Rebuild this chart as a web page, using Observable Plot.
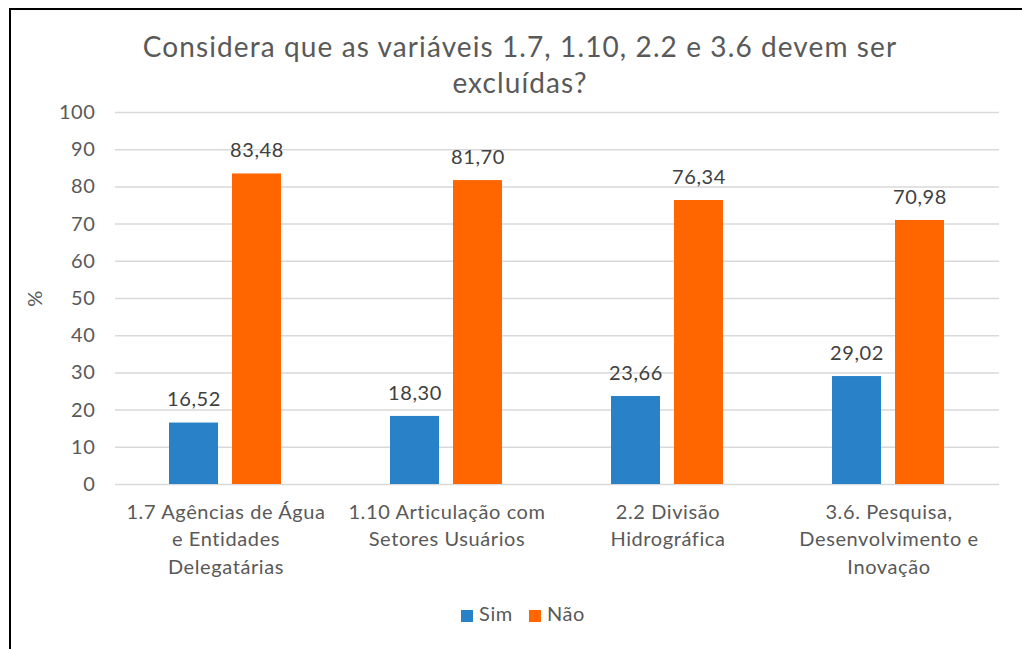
<!DOCTYPE html>
<html>
<head>
<meta charset="utf-8">
<script src="https://cdn.jsdelivr.net/npm/d3@7"></script>
<script src="https://cdn.jsdelivr.net/npm/@observablehq/plot@0.6"></script>
<style>
  html, body { margin: 0; padding: 0; background: #fff; overflow: hidden; width: 1022px; height: 649px; }
  #frame { position: absolute; left: 9px; top: 8px; width: 1100px; height: 800px; border-left: 2px solid #000; border-top: 2px solid #000; }
  #title { position: absolute; left: 0; top: 28px; width: 1040px; text-align: center; font-family: Lato, sans-serif; font-size: 28px; letter-spacing: 1.1px; line-height: 36px; color: #595959; }
  #chart { position: absolute; left: 0; top: 100px; }
  #legend { position: absolute; left: 0; top: 601px; width: 1046px; text-align: center; font-family: Lato, sans-serif; font-size: 20px; letter-spacing: 0.6px; color: #595959; }
  #legend span.sw { display: inline-block; width: 12px; height: 12px; margin-right: 6px; vertical-align: -1px; }
  #legend span.item { margin: 0 8px; }
</style>
</head>
<body>
<div id="frame"></div>
<div id="title">Considera que as variáveis 1.7, 1.10, 2.2 e 3.6 devem ser<br>excluídas?</div>
<div id="chart"></div>
<div id="legend"></div>
<script>
const categories = ["1.7", "1.10", "2.2", "3.6"];
const categoryLabels = [
  "1.7 Agências de Água\ne Entidades\nDelegatárias",
  "1.10 Articulação com\nSetores Usuários",
  "2.2 Divisão\nHidrográfica",
  "3.6. Pesquisa,\nDesenvolvimento e\nInovação"
];
const series = ["Sim", "Não"];
const sim = [16.52, 18.30, 23.66, 29.02];
const nao = [83.48, 81.70, 76.34, 70.98];
const yTicks = [0, 10, 20, 30, 40, 50, 60, 70, 80, 90, 100];
const colors = ["#2981C8", "#FF6600"];

const data = categories.flatMap((c, i) => [
  {cat: c, serie: series[0], value: sim[i]},
  {cat: c, serie: series[1], value: nao[i]}
]);
const fmt = v => d3.format(".2f")(v).replace(".", ",");
const labelOf = Object.fromEntries(categories.map((c, i) => [c, categoryLabels[i]]));

const chart = Plot.plot({
  width: 1022,
  height: 490,
  marginLeft: 115,
  marginRight: 23,
  marginTop: 12,
  marginBottom: 106,
  style: {fontFamily: "Lato, sans-serif", fontSize: "20px", letterSpacing: "0.6px", color: "#595959", background: "transparent", overflow: "visible"},
  fx: {domain: categories, padding: 0, label: null},
  x: {domain: series, paddingInner: 0.21875, paddingOuter: 0.836, axis: null},
  y: {domain: [0, 100]},
  color: {domain: series, range: colors},
  marks: [
    Plot.gridY(yTicks, {stroke: "#d9d9d9", strokeOpacity: 1, strokeWidth: 1.5}),
    Plot.axisY(yTicks, {tickSize: 0, tickPadding: 20, label: "%", labelAnchor: "center", labelArrow: "none", labelOffset: 88, fontSize: 20}),
    Plot.axisFx({anchor: "bottom", tickSize: 0, tickPadding: 15, label: null, lineHeight: 1.37, fontSize: 20, tickFormat: d => labelOf[d]}),
    Plot.barY(data, {fx: "cat", x: "serie", y: "value", fill: "serie"}),
    Plot.text(data, {fx: "cat", x: "serie", y: "value", text: d => fmt(d.value), dy: -23, fill: "#404040", fontSize: 20})
  ]
});
document.getElementById("chart").appendChild(chart);

const legend = document.getElementById("legend");
series.forEach((s, i) => {
  const item = document.createElement("span");
  item.className = "item";
  const sw = document.createElement("span");
  sw.className = "sw";
  sw.style.background = colors[i];
  item.appendChild(sw);
  item.appendChild(document.createTextNode(s));
  legend.appendChild(item);
});
</script>
</body>
</html>
